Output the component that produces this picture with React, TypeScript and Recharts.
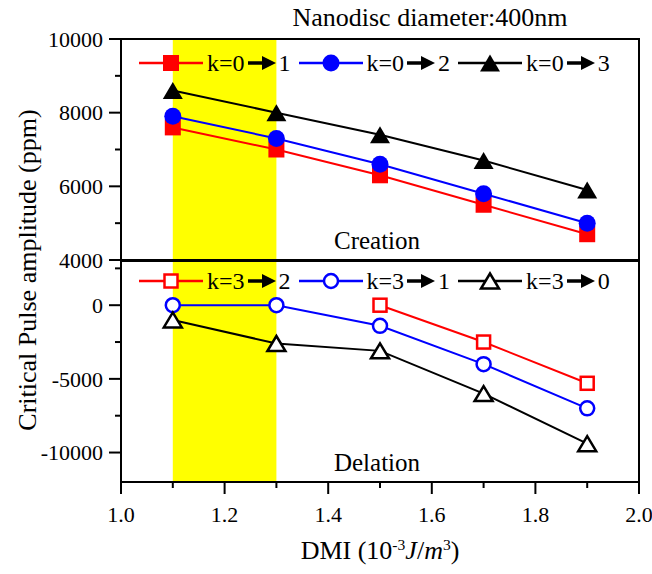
import React from 'react';
import { LineChart, Line, XAxis, YAxis, ReferenceArea } from 'recharts';

// DMI values (10^-3 J/m^3)
const dmi = [1.1, 1.3, 1.5, 1.7, 1.9];

// Creation panel (ppm)
const create01 = [7600, 7000, 6300, 5500, 4700];
const create02 = [7900, 7300, 6600, 5800, 5000];
const create03 = [8600, 8000, 7400, 6700, 5900];

// Delation panel (ppm)
const delete32 = [null, null, 0, -2500, -5300];
const delete31 = [0, 0, -1400, -4000, -7000];
const delete30 = [-1000, -2600, -3100, -6000, -9400];

const xTicks = [1.0, 1.1, 1.2, 1.3, 1.4, 1.5, 1.6, 1.7, 1.8, 1.9, 2.0];
const xMajor = [1.0, 1.2, 1.4, 1.6, 1.8, 2.0];
const topTicks = [4000, 5000, 6000, 7000, 8000, 9000, 10000];
const topMajor = [4000, 6000, 8000, 10000];
const botTicks = [2500, 0, -2500, -5000, -7500, -10000];
const botMajor = [0, -5000, -10000];

const topData = dmi.map((x, i) => ({ x, a: create01[i], b: create02[i], c: create03[i] }));
const botData = dmi.map((x, i) => ({ x, a: delete32[i], b: delete31[i], c: delete30[i] }));

const FONT = "'Liberation Serif', 'Times New Roman', Tinos, 'DejaVu Serif', serif";
const RED = '#ff0000';
const BLUE = '#0000ff';

type Kind = 'square' | 'circle' | 'triangle';

function Marker({ kind, filled, color, cx, cy }: { kind: Kind; filled: boolean; color: string; cx: number; cy: number }) {
  const fill = filled ? color : '#fff';
  const sw = filled ? 0 : 2.5;
  if (kind === 'square') {
    const s = filled ? 16 : 13;
    return <rect x={cx - s / 2} y={cy - s / 2} width={s} height={s} fill={fill} stroke={color} strokeWidth={sw} />;
  }
  if (kind === 'circle') {
    return <circle cx={cx} cy={cy} r={filled ? 8.5 : 7} fill={fill} stroke={color} strokeWidth={sw} />;
  }
  const w = filled ? 10 : 9;
  const h = filled ? 17 : 15;
  return (
    <polygon
      points={`${cx - w},${cy + h / 2} ${cx + w},${cy + h / 2} ${cx},${cy - h / 2}`}
      fill={fill}
      stroke={color}
      strokeWidth={sw}
    />
  );
}

const dotFor = (kind: Kind, filled: boolean, color: string) => (p: any) => {
  if (p.cx == null || p.cy == null || p.value == null) return <g key={p.key} />;
  return (
    <g key={p.key}>
      <Marker kind={kind} filled={filled} color={color} cx={p.cx} cy={p.cy} />
    </g>
  );
};

const YTick = (majors: number[]) => (p: any) => {
  const v = p.payload.value;
  const major = majors.includes(v);
  const ax = p.x + 18;
  return (
    <g>
      <line x1={ax} x2={ax - (major ? 12 : 6)} y1={p.y} y2={p.y} stroke="#000" strokeWidth={2} />
      {major && (
        <text x={p.x} y={p.y} dy="0.35em" textAnchor="end" style={{ fontFamily: FONT }} fontSize={22} fill="#000">
          {v}
        </text>
      )}
    </g>
  );
};

const XTick = (p: any) => {
  const v = p.payload.value;
  const major = xMajor.some((m) => Math.abs(m - v) < 1e-6);
  const ay = p.y - 24;
  return (
    <g>
      <line x1={p.x} x2={p.x} y1={ay} y2={ay + (major ? 12 : 6)} stroke="#000" strokeWidth={2} />
      {major && (
        <text x={p.x} y={p.y} dy="0.71em" textAnchor="middle" style={{ fontFamily: FONT }} fontSize={22} fill="#000">
          {v.toFixed(1)}
        </text>
      )}
    </g>
  );
};

function Arrow() {
  return (
    <svg width={30} height={16} style={{ margin: '0 2px' }}>
      <line x1={1} y1={8} x2={18} y2={8} stroke="#000" strokeWidth={3.5} />
      <polygon points="15,1 29,8 15,15" fill="#000" />
    </svg>
  );
}

function LegendItem({ kind, filled, color, from, to }: { kind: Kind; filled: boolean; color: string; from: number; to: number }) {
  return (
    <div style={{ display: 'flex', alignItems: 'center', marginRight: 8 }}>
      <svg width={64} height={22}>
        <line x1={0} y1={11} x2={64} y2={11} stroke={color} strokeWidth={2.5} />
        <Marker kind={kind} filled={filled} color={color} cx={32} cy={11} />
      </svg>
      <span style={{ marginLeft: 4 }}>k={from}</span>
      <Arrow />
      <span>{to}</span>
    </div>
  );
}

function LegendRow({ filled, top, from, tos }: { filled: boolean; top: number; from: number; tos: number[] }) {
  const kinds: Kind[] = ['square', 'circle', 'triangle'];
  const colors = [RED, BLUE, '#000'];
  return (
    <div
      style={{
        position: 'absolute',
        left: 139,
        top,
        display: 'flex',
        alignItems: 'center',
        fontFamily: FONT,
        fontSize: 24,
        lineHeight: '24px',
        height: 24,
      }}
    >
      {kinds.map((k, i) => (
        <LegendItem key={k} kind={k} filled={filled} color={colors[i]} from={from} to={tos[i]} />
      ))}
    </div>
  );
}

const textStyle: React.CSSProperties = {
  position: 'absolute',
  fontFamily: FONT,
  color: '#000',
  whiteSpace: 'nowrap',
  transform: 'translate(-50%, -50%)',
};

export default function App() {
  return (
    <div style={{ position: 'absolute', left: 0, top: 0, width: 652, height: 574, background: '#fff', fontFamily: FONT }}>
      <div style={{ position: 'absolute', left: 0, top: 0 }}>
        <LineChart width={652} height={280} data={topData} margin={{ top: 39, right: 13, bottom: 20, left: 0 }}>
          <XAxis type="number" dataKey="x" domain={[1, 2]} hide />
          <YAxis
            type="number"
            domain={[4000, 10000]}
            ticks={topTicks}
            interval={0}
            width={121}
            tickSize={12}
            tickMargin={6}
            tickLine={false}
            tick={YTick(topMajor)}
            axisLine={{ stroke: '#000', strokeWidth: 2 }}
            allowDataOverflow
          />
          <ReferenceArea x1={1.1} x2={1.3} y1={4000} y2={10000} fill="#ffff00" fillOpacity={1} stroke="none" />
          <ReferenceArea x1={1} x2={2} y1={4000} y2={10000} fill="none" stroke="#000" strokeWidth={2} />
          <Line dataKey="a" stroke={RED} strokeWidth={2} dot={dotFor('square', true, RED)} isAnimationActive={false} />
          <Line dataKey="b" stroke={BLUE} strokeWidth={2} dot={dotFor('circle', true, BLUE)} isAnimationActive={false} />
          <Line dataKey="c" stroke="#000" strokeWidth={2} dot={dotFor('triangle', true, '#000')} isAnimationActive={false} />
        </LineChart>
      </div>

      <div style={{ position: 'absolute', left: 0, top: 240 }}>
        <LineChart width={652} height={334} data={botData} margin={{ top: 21, right: 13, bottom: 52, left: 0 }}>
          <XAxis
            type="number"
            dataKey="x"
            domain={[1, 2]}
            ticks={xTicks}
            interval={0}
            height={40}
            tickSize={12}
            tickMargin={12}
            tickLine={false}
            tick={XTick}
            axisLine={{ stroke: '#000', strokeWidth: 2 }}
            allowDataOverflow
          />
          <YAxis
            type="number"
            domain={[-12000, 3000]}
            ticks={botTicks}
            interval={0}
            width={121}
            tickSize={12}
            tickMargin={6}
            tickLine={false}
            tick={YTick(botMajor)}
            axisLine={{ stroke: '#000', strokeWidth: 2 }}
            allowDataOverflow
          />
          <ReferenceArea x1={1.1} x2={1.3} y1={-12000} y2={3000} fill="#ffff00" fillOpacity={1} stroke="none" />
          <ReferenceArea x1={1} x2={2} y1={-12000} y2={3000} fill="none" stroke="#000" strokeWidth={2} />
          <Line dataKey="a" stroke={RED} strokeWidth={2} dot={dotFor('square', false, RED)} isAnimationActive={false} />
          <Line dataKey="b" stroke={BLUE} strokeWidth={2} dot={dotFor('circle', false, BLUE)} isAnimationActive={false} />
          <Line dataKey="c" stroke="#000" strokeWidth={2} dot={dotFor('triangle', false, '#000')} isAnimationActive={false} />
        </LineChart>
      </div>

      <LegendRow filled top={51} from={0} tos={[1, 2, 3]} />
      <LegendRow filled={false} top={269} from={3} tos={[2, 1, 0]} />

      <div style={{ ...textStyle, left: 430, top: 18, fontSize: 26 }}>Nanodisc diameter:400nm</div>
      <div style={{ ...textStyle, left: 377, top: 241, fontSize: 25 }}>Creation</div>
      <div style={{ ...textStyle, left: 377, top: 463, fontSize: 25 }}>Delation</div>
      <div style={{ ...textStyle, left: 28, top: 270, fontSize: 26, transform: 'translate(-50%, -50%) rotate(-90deg)' }}>
        Critical Pulse amplitude (ppm)
      </div>
      <div style={{ ...textStyle, left: 380, top: 551, fontSize: 26 }}>
        DMI (10<sup style={{ fontSize: '0.6em' }}>-3</sup>
        <i>J</i>/<i>m</i>
        <sup style={{ fontSize: '0.6em' }}>3</sup>)
      </div>
    </div>
  );
}
